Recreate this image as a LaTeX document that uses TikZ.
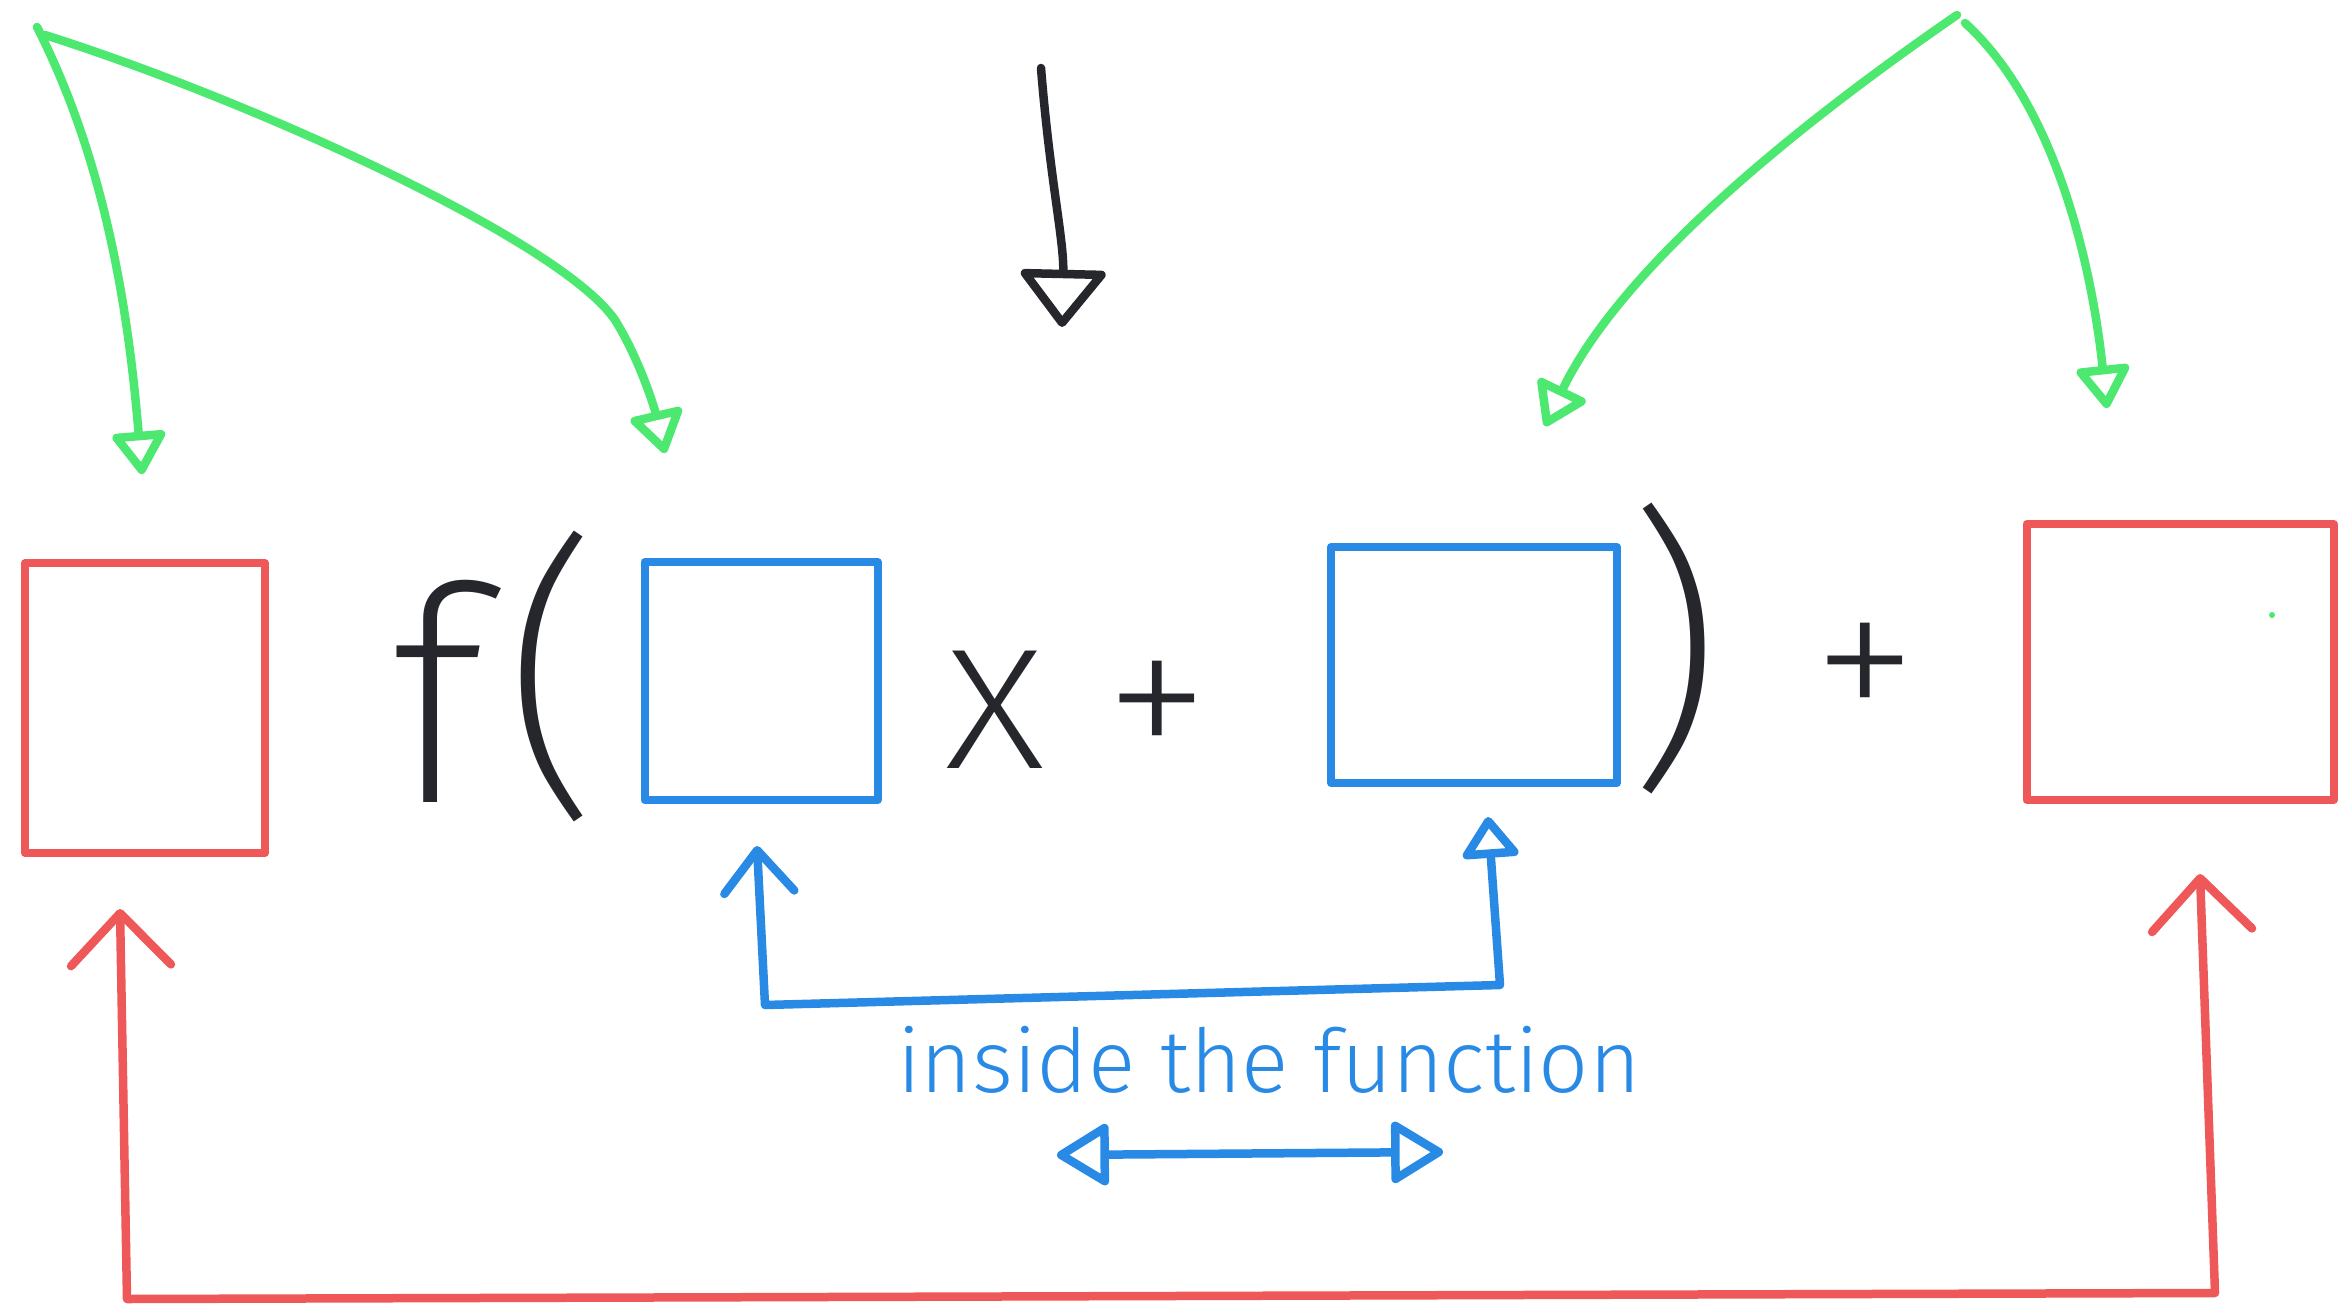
\documentclass[tikz,border=0pt]{standalone}
\usepackage{fontspec}
\newfontfamily\hand{Fira Sans ExtraLight}
\newfontfamily\handtext{Fira Sans Light}
\usetikzlibrary{arrows.meta}
\definecolor{pgreen}{RGB}{76,232,112}
\definecolor{pred}{RGB}{238,88,88}
\definecolor{pblue}{RGB}{40,138,228}
\definecolor{pink}{RGB}{38,39,44}
\tikzset{
  gtri/.tip={Triangle[open,round,length=46pt,width=58pt]},
  ktri/.tip={Triangle[open,round,length=60pt,width=92pt]},
  btri/.tip={Triangle[open,round,length=44pt,width=62pt]},
  dtri/.tip={Triangle[open,round,length=56pt,width=66pt]},
  bbarb/.tip={Straight Barb[round,length=42pt,width=70pt]},
  rbarb/.tip={Straight Barb[round,length=52pt,width=100pt]},
  boxshape/.style={draw, rectangle, line width=8pt, inner sep=0pt},
  redbox/.style={boxshape, draw=pred},
  bluebox/.style={boxshape, draw=pblue},
  glyph/.style={text=pink, inner sep=0pt, font={\hand\fontsize{#1}{#1}\selectfont}},
  gline/.style={draw=pgreen, line width=8.5pt},
  kline/.style={draw=pink, line width=8.5pt},
  bline/.style={draw=pblue, line width=8.5pt},
  rline/.style={draw=pred, line width=8.5pt},
}
\begin{document}
\begin{tikzpicture}[x=1pt,y=-1pt,line cap=round,line join=round]
\useasboundingbox (0,0) rectangle (2351,1306);
% boxes
\node[redbox, minimum width=240pt, minimum height=290pt] (redL) at (145,708) {};
\node[bluebox, minimum width=233pt, minimum height=238pt] (blue1) at (761,681) {};
\node[bluebox, minimum width=286pt, minimum height=236pt] (blue2) at (1474,665) {};
\node[redbox, minimum width=307pt, minimum height=276pt] (redR) at (2180,662) {};
% expression glyphs
\node[glyph=300, anchor=base] (fsym) at (437,802) {f};
\node[glyph=300] (lpar) at (552,676) {(};
\node[glyph=225, anchor=base] (xsym) at (995,768) {x};
\node[glyph=215] (plus1) at (1157,715) {+};
\node[glyph=300] (rpar) at (1674,648) {)};
\node[glyph=215] (plus2) at (1865,677) {+};
\fill[pgreen] (2272,615) circle (3);
% green arrows
\coordinate (gL) at (37,27);
\coordinate (gR) at (1957,15);
\draw[gline, -gtri] (gL) .. controls (110,170) and (130,330) .. ([xshift=-3pt,yshift=85pt]redL.north);
\draw[gline, -gtri] ([shift={(8pt,-8pt)}]gL) .. controls (250,100) and (560,240) .. (615,320)
   .. controls (640,360) and (655,410) .. ([xshift=-96pt,yshift=105pt]blue1.north);
\draw[gline, -gtri] (gR) .. controls (1790,130) and (1620,270) .. ([xshift=71pt,yshift=117pt]blue2.north);
\draw[gline, -gtri] ([shift={(8pt,-8pt)}]gR) .. controls (2050,100) and (2090,250) .. ([xshift=-73pt,yshift=112pt]redR.north);
% black arrow
\coordinate (ks) at (1041,68);
\coordinate (ke) at (1062,327);
\draw[kline, -ktri] (ks) .. controls (1050,180) and (1064,240) .. (ke);
% blue connector
\draw[bline, bbarb-btri] ([xshift=-4pt,yshift=-42pt]blue1.south) -- (765,1005) -- (1500,985) -- ([xshift=14pt,yshift=-30pt]blue2.south);
\node[text=pblue, inner sep=0pt, anchor=base west, font={\handtext\fontsize{88}{88}\selectfont}] (label) at (897,1092) {inside the function};
% double arrow
\coordinate (da1) at (1057,1155);
\coordinate (da2) at (1443,1152);
\draw[bline, dtri-dtri] (da1) -- (da2);
% red connector
\draw[rline, rbarb-rbarb] ([xshift=-25pt,yshift=-52pt]redL.south) -- (127,1299) -- (2215,1293) -- ([xshift=20pt,yshift=-70pt]redR.south);
\end{tikzpicture}
\end{document}
